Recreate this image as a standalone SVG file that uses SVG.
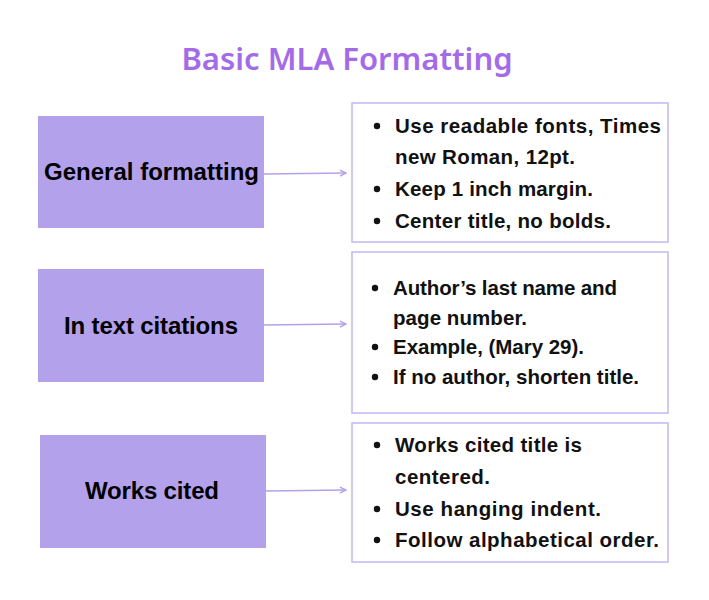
<svg xmlns="http://www.w3.org/2000/svg" width="709" height="600" viewBox="0 0 709 600">
<defs>
<style>
.src{fill:#b3a1ec;}
.dst{fill:#ffffff;stroke:#c4b6f1;stroke-width:1.5;}
.lbl{font-family:"Liberation Sans",Arial,sans-serif;font-weight:bold;font-size:24px;fill:#000;}
.txt{font-family:"Liberation Sans",Arial,sans-serif;font-weight:bold;font-size:20.5px;fill:#111;}
.conn{stroke:#b3a1ec;stroke-width:1.5;fill:none;marker-end:url(#ah);}
.title{font-family:"Noto Sans","Open Sans",sans-serif;font-weight:600;font-size:31px;fill:#a46be8;text-anchor:middle;}
.dot{fill:#111;}
</style>
<marker id="ah" viewBox="0 0 10 10" refX="9" refY="5" markerWidth="5" markerHeight="5" orient="auto">
<path d="M1,1 L9,5 L1,9" fill="none" stroke="#b3a1ec" stroke-width="2"/>
</marker>
</defs>
<rect width="709" height="600" fill="#ffffff"/>
<text class="title" x="347" y="70">Basic MLA Formatting</text>
<g id="connectors">
<line class="conn" x1="264" y1="174" x2="346" y2="173"/>
<line class="conn" x1="264" y1="325" x2="346" y2="324"/>
<line class="conn" x1="266" y1="491" x2="346" y2="490"/>
</g>
<g id="general-formatting">
<rect class="src" x="38" y="116" width="226" height="112"/>
<text class="lbl" x="44" y="180" textLength="215">General formatting</text>
</g>
<g id="general-formatting-details">
<rect class="dst" x="352" y="103" width="316" height="139"/>
<circle class="dot" cx="377" cy="126" r="3.2"/>
<text class="txt" x="395" y="133" textLength="266">Use readable fonts, Times</text>
<text class="txt" x="395" y="164" textLength="180">new Roman, 12pt.</text>
<circle class="dot" cx="377" cy="189" r="3.2"/>
<text class="txt" x="395" y="196" textLength="198">Keep 1 inch margin.</text>
<circle class="dot" cx="377" cy="221" r="3.2"/>
<text class="txt" x="395" y="228" textLength="216">Center title, no bolds.</text>
</g>
<g id="in-text-citations">
<rect class="src" x="38" y="269" width="226" height="113"/>
<text class="lbl" x="64" y="334" textLength="174">In text citations</text>
</g>
<g id="in-text-citations-details">
<rect class="dst" x="352" y="252" width="316" height="161"/>
<circle class="dot" cx="375" cy="288" r="3.2"/>
<text class="txt" x="393" y="295" textLength="224">Author’s last name and</text>
<text class="txt" x="393" y="325" textLength="134">page number.</text>
<circle class="dot" cx="375" cy="347" r="3.2"/>
<text class="txt" x="393" y="354" textLength="191">Example, (Mary 29).</text>
<circle class="dot" cx="375" cy="377" r="3.2"/>
<text class="txt" x="393" y="384" textLength="246">If no author, shorten title.</text>
</g>
<g id="works-cited">
<rect class="src" x="40" y="435" width="226" height="113"/>
<text class="lbl" x="85" y="499" textLength="134">Works cited</text>
</g>
<g id="works-cited-details">
<rect class="dst" x="352" y="423" width="316" height="139"/>
<circle class="dot" cx="377" cy="445" r="3.2"/>
<text class="txt" x="395" y="452" textLength="187">Works cited title is</text>
<text class="txt" x="395" y="484" textLength="95">centered.</text>
<circle class="dot" cx="377" cy="509" r="3.2"/>
<text class="txt" x="395" y="516" textLength="206">Use hanging indent.</text>
<circle class="dot" cx="377" cy="540" r="3.2"/>
<text class="txt" x="395" y="547" textLength="264">Follow alphabetical order.</text>
</g>
</svg>
